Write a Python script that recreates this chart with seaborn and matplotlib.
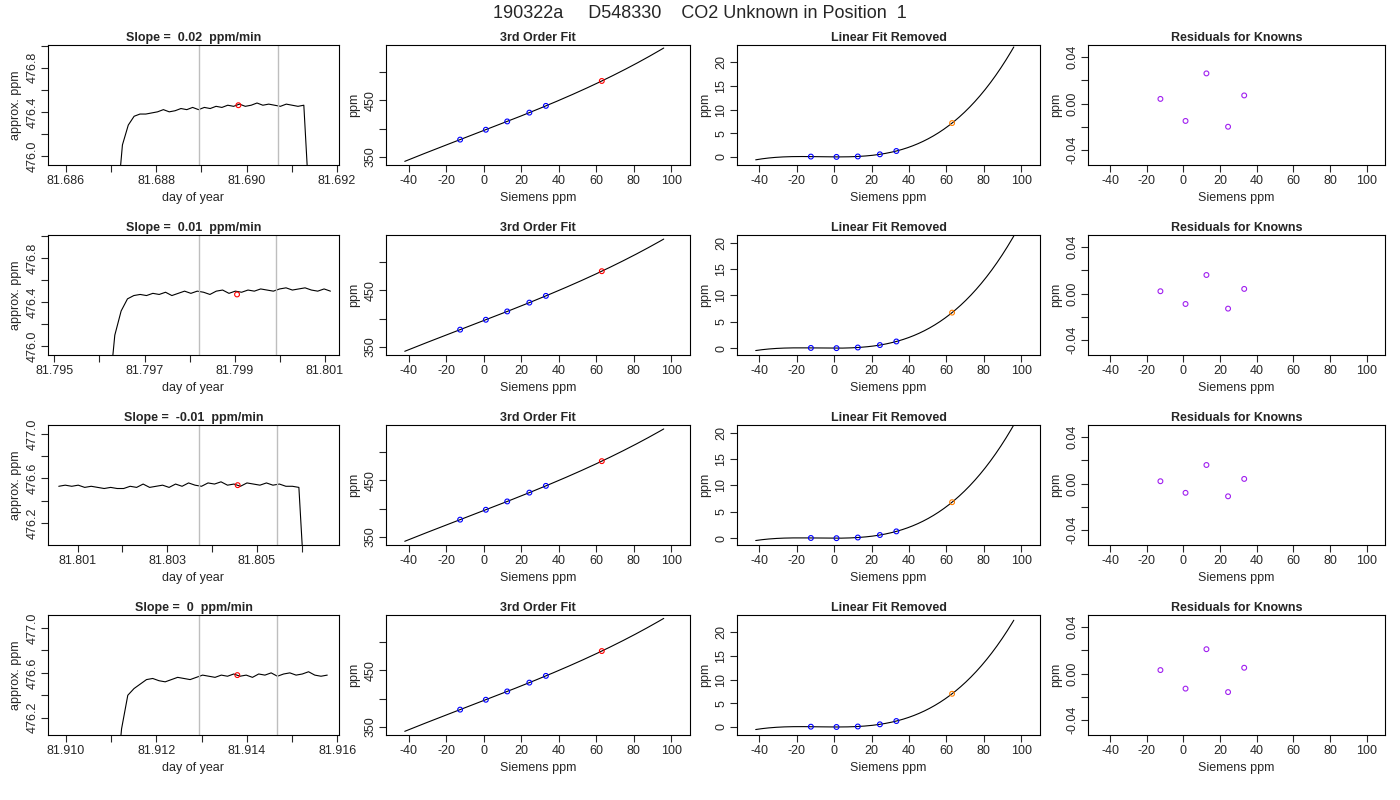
import numpy as np
import pandas as pd
import matplotlib
matplotlib.use("Agg")
import matplotlib.pyplot as plt
import seaborn as sns

sns.set_style("ticks")
plt.rcParams['font.family'] = ['Liberation Sans', 'DejaVu Sans']
plt.rcParams['axes.unicode_minus'] = False

suptitle = "190322a     D548330    CO2 Unknown in Position  1"
slopes = ["0.02", "0.01", "-0.01", "0"]

# time series (start, end day; values)
ts_start = [81.68712, 81.79620, 81.80058, 81.91109]
ts_end = [81.69140, 81.80112, 81.80608, 81.91578]
ts_vals = [
    [475.50, 476.10, 476.28, 476.36, 476.38, 476.38, 476.39, 476.40, 476.42, 476.40, 476.41, 476.43,
     476.42, 476.44, 476.42, 476.44, 476.43, 476.45, 476.44, 476.46, 476.45, 476.47, 476.45, 476.46,
     476.48, 476.46, 476.47, 476.46, 476.45, 476.47, 476.46, 476.45, 476.46, 475.50],
    [475.50, 476.10, 476.32, 476.43, 476.46, 476.47, 476.46, 476.48, 476.47, 476.49, 476.46, 476.48,
     476.50, 476.48, 476.50, 476.49, 476.47, 476.50, 476.51, 476.48, 476.50, 476.49, 476.51, 476.50,
     476.52, 476.51, 476.50, 476.52, 476.53, 476.51, 476.52, 476.53, 476.51, 476.50, 476.52, 476.50],
    [476.53, 476.54, 476.53, 476.54, 476.52, 476.53, 476.52, 476.51, 476.52, 476.51, 476.51, 476.53,
     476.52, 476.55, 476.52, 476.53, 476.54, 476.52, 476.55, 476.53, 476.56, 476.54, 476.53, 476.56,
     476.55, 476.57, 476.54, 476.55, 476.53, 476.56, 476.55, 476.54, 476.56, 476.54, 476.55, 476.53,
     476.53, 476.52, 475.50],
    [475.50, 476.10, 476.40, 476.46, 476.50, 476.54, 476.55, 476.53, 476.52, 476.54, 476.56, 476.55,
     476.54, 476.56, 476.58, 476.57, 476.56, 476.58, 476.57, 476.59, 476.57, 476.58, 476.56, 476.59,
     476.58, 476.60, 476.57, 476.59, 476.60, 476.58, 476.59, 476.61, 476.58, 476.57, 476.58],
]
ts_xlim = [(81.68560, 81.69205), (81.79486, 81.80131), (81.80034, 81.80683), (81.90960, 81.91604)]
ts_ylim = [(475.918, 477.006), (475.92, 477.01), (476.003, 477.08), (476.045, 477.117)]
ts_xticks = [[81.686, 81.688, 81.690, 81.692], [81.795, 81.797, 81.799, 81.801],
             [81.801, 81.803, 81.805], [81.910, 81.912, 81.914, 81.916]]
ts_ylabels = [[476.0, 476.4, 476.8], [476.0, 476.4, 476.8], [476.2, 476.6, 477.0], [476.2, 476.6, 477.0]]
gray_lines = [(81.68895, 81.69069), (81.79821, 81.79991), (81.80370, 81.80544), (81.91294, 81.91466)]
red_pt = [(81.68982, 476.46), (81.79905, 476.47), (81.80457, 476.54), (81.91379, 476.58)]

# fit panels
known_x = [-12.5, 1.2, 12.6, 24.4, 33.2]
unknown_x = 63.0
curve_x_range = (-42, 96)
lin_intercept = [396.4, 396.4, 396.4, 396.4]
lin_slope = [1.282, 1.282, 1.282, 1.282]
# residual curve (linear fit removed) read at x points
resid_curve_x = [-42, -12.5, 1.2, 12.6, 24.4, 33.2, 63, 96]
resid_curve_y = [
    [-0.6, 0.05, 0.0, 0.1, 0.55, 1.3, 7.1, 23.2],
    [-0.5, 0.05, 0.0, 0.1, 0.5, 1.2, 6.8, 21.3],
    [-0.5, 0.05, 0.0, 0.1, 0.5, 1.2, 6.9, 21.5],
    [-0.55, 0.05, 0.0, 0.1, 0.52, 1.25, 7.0, 22.5],
]
lfr_ylim = [(-1.7, 23.6), (-1.33, 21.5), (-1.33, 21.5), (-1.7, 23.6)]
resid_known = [
    [0.004, -0.015, 0.026, -0.020, 0.007],
    [0.002, -0.009, 0.016, -0.013, 0.004],
    [0.002, -0.008, 0.016, -0.011, 0.004],
    [0.003, -0.013, 0.021, -0.016, 0.005],
]

W, H = 1400, 800
fig = plt.figure(figsize=(14, 8), dpi=100)
fig.text(0.5, 1 - 14 / H, suptitle, ha='center', va='center', fontsize=13)
cols = [(48, 339), (386, 690), (737, 1040), (1088, 1385)]
row_tops = [45, 235, 425, 615]
ph = 120
FS = 9

def mkax(c, r):
    x0, x1 = cols[c]
    t = row_tops[r]
    ax = fig.add_axes([x0 / W, 1 - (t + ph) / H, (x1 - x0) / W, ph / H])
    for s in ax.spines.values():
        s.set_linewidth(0.8); s.set_color('black')
    ax.tick_params(labelsize=FS, length=5, width=0.8, direction='out', pad=2)
    return ax

def open_circ(ax, x, y, color, s=12):
    sns.scatterplot(x=np.atleast_1d(x), y=np.atleast_1d(y), ax=ax, marker='o', s=s,
                    facecolors='none', edgecolor=color, linewidth=0.8, zorder=5)

fx = np.linspace(curve_x_range[0], curve_x_range[1], 200)
for r in range(4):
    # time series
    ax = mkax(0, r)
    y = np.array(ts_vals[r])
    x = np.linspace(ts_start[r], ts_end[r], len(y))
    sns.lineplot(x=x, y=y, ax=ax, color='black', linewidth=0.8)
    for g in gray_lines[r]:
        ax.axvline(g, color='#bebebe', lw=1)
    open_circ(ax, red_pt[r][0], red_pt[r][1], 'red')
    ax.set_xlim(*ts_xlim[r]); ax.set_ylim(*ts_ylim[r])
    t0 = ts_xticks[r]
    step = 0.001
    allt = np.arange(np.ceil(ts_xlim[r][0] / step - 1e-6) * step, ts_xlim[r][1], step)
    ax.set_xticks(allt)
    ax.set_xticklabels([f"{v:.3f}" if np.min(np.abs(np.array(t0) - v)) < 1e-6 else "" for v in allt])
    yl = ts_ylabels[r]
    yt = np.arange(476.0, 477.21, 0.2)
    yt = yt[(yt > ts_ylim[r][0]) & (yt < ts_ylim[r][1])]
    ax.set_yticks(yt)
    ax.set_yticklabels([f"{v:.1f}" if np.min(np.abs(np.array(yl) - v)) < 1e-6 else "" for v in yt],
                       rotation=90, va='center')
    ax.set_xlabel("day of year", fontsize=FS, labelpad=4)
    ax.set_ylabel("approx. ppm", fontsize=FS, labelpad=3)
    ax.set_title(f"Slope =  {slopes[r]}  ppm/min", fontsize=FS, fontweight='bold', pad=3)

    # cubic residual curve from read points
    coef = np.polyfit(resid_curve_x, resid_curve_y[r], 3)
    rc = np.polyval(coef, fx)
    kx = np.array(known_x)
    kres = np.polyval(coef, kx)
    ures = np.polyval(coef, unknown_x)
    lin = lambda v: lin_intercept[r] + lin_slope[r] * v

    ax = mkax(1, r)
    sns.lineplot(x=fx, y=lin(fx) + rc, ax=ax, color='black', linewidth=0.8)
    open_circ(ax, kx, lin(kx) + kres, 'blue')
    open_circ(ax, unknown_x, lin(unknown_x) + ures, 'red')
    ax.set_xlim(-52, 110); ax.set_ylim(335.5, 548)
    ax.set_xticks(range(-40, 101, 20))
    ax.set_yticks([350, 400, 450, 500])
    ax.set_yticklabels(["350", "", "450", ""], rotation=90, va='center')
    ax.set_xlabel("Siemens ppm", fontsize=FS, labelpad=4)
    ax.set_ylabel("ppm", fontsize=FS, labelpad=3)
    ax.set_title("3rd Order Fit", fontsize=FS, fontweight='bold', pad=3)

    ax = mkax(2, r)
    sns.lineplot(x=fx, y=rc, ax=ax, color='black', linewidth=0.8)
    open_circ(ax, kx, kres, 'blue')
    open_circ(ax, unknown_x, ures, '#ff7f00')
    ax.set_xlim(-52, 110); ax.set_ylim(*lfr_ylim[r])
    ax.set_xticks(range(-40, 101, 20))
    ax.set_yticks([0, 5, 10, 15, 20])
    ax.set_yticklabels(["0", "5", "10", "15", "20"], rotation=90, va='center')
    ax.set_xlabel("Siemens ppm", fontsize=FS, labelpad=4)
    ax.set_ylabel("ppm", fontsize=FS, labelpad=3)
    ax.set_title("Linear Fit Removed", fontsize=FS, fontweight='bold', pad=3)

    ax = mkax(3, r)
    open_circ(ax, kx, resid_known[r], '#a020f0')
    ax.set_xlim(-52, 110); ax.set_ylim(-0.053, 0.0505)
    ax.set_xticks(range(-40, 101, 20))
    ax.set_yticks([-0.04, -0.02, 0.0, 0.02, 0.04])
    ax.set_yticklabels(["-0.04", "", "0.00", "", "0.04"], rotation=90, va='center')
    ax.set_xlabel("Siemens ppm", fontsize=FS, labelpad=4)
    ax.set_ylabel("ppm", fontsize=FS, labelpad=3)
    ax.set_title("Residuals for Knowns", fontsize=FS, fontweight='bold', pad=3)

fig.savefig("out.png", dpi=100)
